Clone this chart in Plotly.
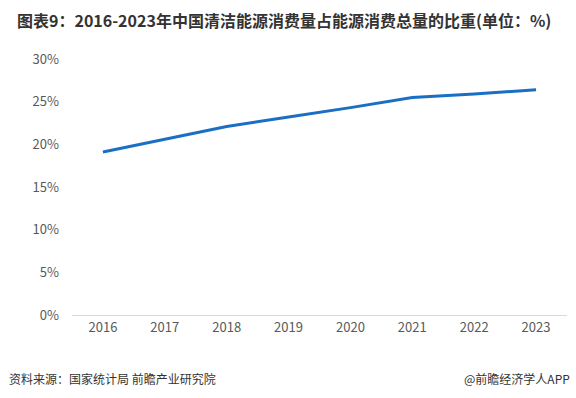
import plotly.graph_objects as go

years = ["2016", "2017", "2018", "2019", "2020", "2021", "2022", "2023"]
share = [19.1, 20.6, 22.1, 23.2, 24.3, 25.5, 25.9, 26.4]
y_ticks = [0, 5, 10, 15, 20, 25, 30]
y_tick_labels = [f"{v}%" for v in y_ticks]

title_text = "图表9：2016-2023年中国清洁能源消费量占能源消费总量的比重(单位：%)"
source_text = "资料来源：国家统计局 前瞻产业研究院"
brand_text = "@前瞻经济学人APP"

fig = go.Figure()
fig.add_trace(go.Scatter(
    x=years, y=share, mode="lines",
    line=dict(color="#1a6fc4", width=3),
    hoverinfo="x+y",
))

fig.update_layout(
    width=576, height=398,
    margin=dict(l=72, r=9, t=59, b=83),
    paper_bgcolor="white", plot_bgcolor="white",
    showlegend=False,
    font=dict(family="Noto Sans CJK SC, sans-serif", color="#595959"),
    xaxis=dict(
        type="category", range=[-0.5, 7.5],
        showgrid=False, showline=True, linecolor="#d9d9d9", linewidth=1,
        ticks="", tickfont=dict(size=13, color="#595959"),
    ),
    yaxis=dict(
        range=[0, 30], tickvals=y_ticks, ticktext=y_tick_labels,
        showgrid=False, zeroline=False, showline=False,
        ticks="", ticklen=0, tickfont=dict(size=13, color="#595959"),
        ticklabelstandoff=12,
    ),
    annotations=[
        dict(text=f"<b>{title_text}</b>", xref="paper", yref="paper",
             x=(15 - 72) / 495, y=1 + (59 - 20) / 256, xanchor="left", yanchor="middle",
             showarrow=False, font=dict(size=16, color="#333333",
                                        family="Noto Sans CJK SC, sans-serif")),
        dict(text=source_text, xref="paper", yref="paper",
             x=(7 - 72) / 495, y=-(378 - 315) / 256, xanchor="left", yanchor="middle",
             showarrow=False, font=dict(size=12, color="#333333")),
        dict(text=brand_text, xref="paper", yref="paper",
             x=(572 - 72) / 495, y=-(378 - 315) / 256, xanchor="right", yanchor="middle",
             showarrow=False, font=dict(size=12, color="#333333")),
    ],
)

fig.write_html("out.html", config={"displayModeBar": False},
               post_script="document.body.style.margin='0';")
